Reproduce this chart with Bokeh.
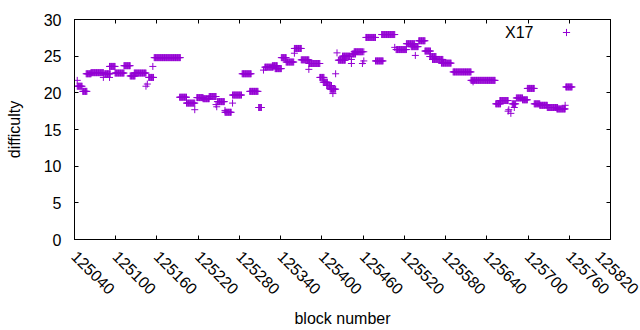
import numpy as np
from bokeh.plotting import figure
from bokeh.models import (Range1d, LinearAxis, FixedTicker, Legend, LegendItem,
                          Label, ColumnDataSource, BasicTickFormatter,
                          CustomJSTickFormatter)
from bokeh.embed import file_html
from bokeh.resources import INLINE

# ---- data: runs of consecutive blocks sharing one difficulty value ----
run_start = [125044, 125044, 125052, 125057, 125064, 125082, 125091, 125084, 125091, 125099,
             125112, 125121, 125127, 125146, 125144, 125148, 125154, 125156, 125193, 125203,
             125215, 125218, 125227, 125236, 125246, 125247, 125248, 125259, 125259, 125270,
             125270, 125284, 125295, 125308, 125315, 125317, 125328, 125332, 125341, 125348,
             125360, 125360, 125370, 125381, 125381, 125397, 125402, 125407, 125412, 125416,
             125420, 125422, 125424, 125430, 125443, 125443, 125444, 125447, 125461, 125459,
             125461, 125464, 125478, 125487, 125506, 125508, 125523, 125530, 125536, 125541,
             125550, 125557, 125561, 125574, 125591, 125620, 125617, 125653, 125659, 125672,
             125671, 125675, 125677, 125680, 125683, 125692, 125699, 125709, 125717, 125728,
             125742, 125754, 125755]
run_end = [125044, 125051, 125058, 125064, 125082, 125082, 125091, 125092, 125099, 125112,
           125121, 125128, 125144, 125146, 125144, 125155, 125154, 125194, 125203, 125215,
           125215, 125227, 125236, 125246, 125246, 125247, 125258, 125259, 125268, 125270,
           125283, 125297, 125307, 125312, 125315, 125329, 125335, 125341, 125348, 125359,
           125360, 125370, 125381, 125381, 125397, 125403, 125408, 125414, 125420, 125416,
           125420, 125422, 125434, 125441, 125443, 125443, 125449, 125459, 125461, 125459,
           125461, 125478, 125489, 125506, 125506, 125523, 125535, 125540, 125536, 125550,
           125558, 125566, 125576, 125588, 125617, 125620, 125652, 125660, 125671, 125672,
           125671, 125675, 125682, 125680, 125692, 125699, 125709, 125717, 125728, 125743,
           125754, 125754, 125764]
run_difficulty = [21.7, 20.9, 20.2, 22.6, 22.75, 22.1, 22.1, 22.6, 23.6, 22.7,
                  23.7, 22.3, 22.7, 21.2, 20.9, 22.1, 23.6, 24.8, 19.4, 18.6,
                  17.7, 19.35, 19.2, 19.5, 18.4, 18.1, 18.8, 17.6, 17.35, 18.6,
                  19.7, 22.6, 20.2, 18.0, 23.1, 23.5, 23.7, 23.3, 24.8, 24.2,
                  25.4, 26.05, 24.5, 23.2, 24.0, 22.1, 21.45, 21.0, 20.5, 19.9,
                  22.6, 25.45, 24.45, 25.0, 24.0, 24.55, 25.3, 25.6, 25.6, 24.0,
                  24.35, 27.55, 24.35, 27.95, 26.2, 25.9, 26.7, 26.3, 25.1, 27.1,
                  25.7, 24.95, 24.55, 24.05, 22.85, 21.5, 21.7, 18.5, 18.95, 17.7,
                  17.5, 17.2, 18.5, 18.0, 19.3, 19.05, 20.6, 18.5, 18.3, 18.0,
                  17.8, 18.3, 20.8]

x_ticks = [125040, 125100, 125160, 125220, 125280, 125340, 125400, 125460,
           125520, 125580, 125640, 125700, 125760, 125820]
y_ticks = [0, 5, 10, 15, 20, 25, 30]
series_name = "X17"

# decode the runs: one point per block
blocks, diffs = [], []
for s, e, d in zip(run_start, run_end, run_difficulty):
    for b in range(s, e + 1):
        blocks.append(b)
        diffs.append(d)
src = ColumnDataSource(dict(block=blocks, difficulty=diffs))

FONT = "Liberation Sans"
FS = "16px"
COLOR = "#9400D3"

p = figure(width=640, height=330,
           x_range=Range1d(x_ticks[0], x_ticks[-1]), y_range=Range1d(0, 30),
           output_backend="svg", toolbar_location=None,
           min_border_left=74, min_border_right=30, min_border_top=19,
           min_border_bottom=91)
p.title.visible = False
p.xgrid.visible = False
p.ygrid.visible = False
p.outline_line_color = "black"
p.outline_line_width = 1
p.background_fill_color = "white"
p.border_fill_color = "white"

r = p.scatter("block", "difficulty", source=src, marker="cross", size=7,
              line_color=COLOR, line_width=1)

def style(ax):
    ax.axis_line_color = "black"
    ax.major_tick_line_color = "black"
    ax.major_tick_in = 4
    ax.major_tick_out = 0
    ax.minor_tick_line_color = None
    ax.major_label_text_font = FONT
    ax.major_label_text_font_size = FS
    ax.major_label_text_color = "black"
    ax.axis_label_text_font = FONT
    ax.axis_label_text_font_size = FS
    ax.axis_label_text_font_style = "normal"
    ax.axis_label_text_color = "black"

xa = p.xaxis[0]
xa.ticker = FixedTicker(ticks=x_ticks)
xa.formatter = BasicTickFormatter(use_scientific=False)
xa.axis_label = "block number"
xa.major_label_orientation = -np.pi / 4
xa.major_label_standoff = 14
xa.axis_label_standoff = 7
style(xa)

ya = p.yaxis[0]
ya.ticker = FixedTicker(ticks=y_ticks)
ya.axis_label = "difficulty"
ya.major_label_standoff = 13
ya.axis_label_standoff = 18
style(ya)

blank = CustomJSTickFormatter(code="return ''")
top = LinearAxis(ticker=FixedTicker(ticks=x_ticks), formatter=blank, major_label_standoff=0)
style(top)
p.add_layout(top, "above")
right = LinearAxis(ticker=FixedTicker(ticks=y_ticks), formatter=blank, major_label_standoff=0)
style(right)
p.add_layout(right, "right")

leg = Legend(items=[LegendItem(label=" ", renderers=[r])], location=(483, 198),
             padding=0, margin=0, spacing=0, label_standoff=0,
             glyph_width=18, glyph_height=18, label_height=18, label_width=1,
             label_text_font_size="1px", border_line_color=None,
             background_fill_alpha=0)
p.add_layout(leg)
p.add_layout(Label(x=459, y=207, x_units="screen", y_units="screen", text=series_name,
                   text_align="right", text_baseline="middle", text_font=FONT,
                   text_font_size=FS, text_color="black"))

open("out.html", "w").write(file_html(p, INLINE))
